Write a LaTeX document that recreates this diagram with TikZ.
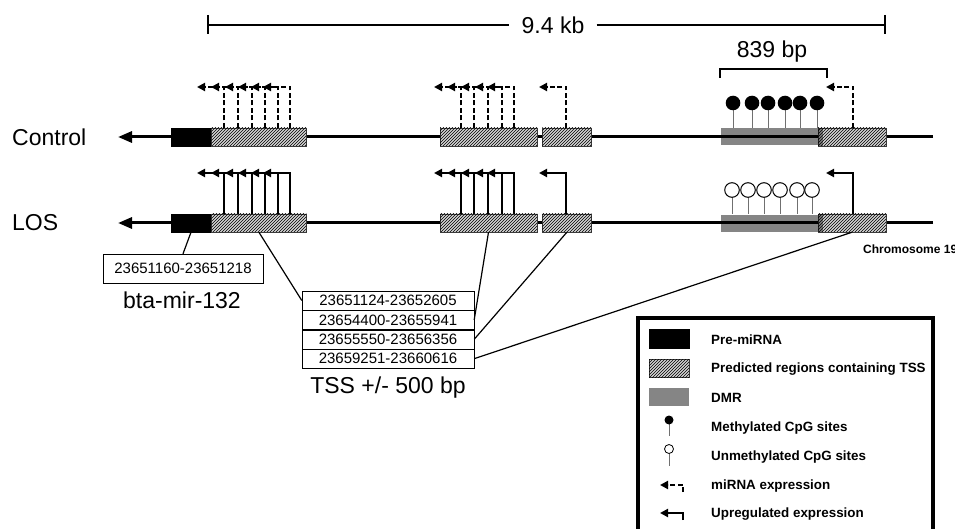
\documentclass[tikz,border=0pt]{standalone}
\usepackage{fontspec}
\setmainfont{Liberation Sans}
\usepackage{tikz}
\usetikzlibrary{positioning, arrows.meta, patterns}
\definecolor{hatchBg}{HTML}{d4d4d4}
\definecolor{hatchEdge}{HTML}{3c3c3c}
\definecolor{dmrGray}{HTML}{858585}
\definecolor{stemGray}{HTML}{707070}

\begin{document}
\begin{tikzpicture}[x=1pt, y=-1pt,
  chrom/.style={line width=3pt},
  tss/.style={draw=hatchEdge, fill=hatchBg, postaction={pattern=north east lines}, minimum height=18pt, inner sep=0pt},
  premir/.style={draw=black, fill=black, minimum height=18pt, inner sep=0pt},
  dmr/.style={fill=dmrGray, minimum height=17pt, inner sep=0pt},
  mirna/.style={line width=2pt, dash pattern=on 5pt off 2.5pt, -{Triangle[length=8pt, width=8pt]}},
  upreg/.style={line width=2pt, -{Triangle[length=8pt, width=8pt]}},
  big/.style={font=\fontsize{23}{26}\selectfont},
  coordbox/.style={draw, font=\fontsize{15}{17}\selectfont, inner sep=0pt},
  leg/.style={anchor=west, inner xsep=0pt, font=\fontsize{13.4}{15}\selectfont\bfseries}]
\useasboundingbox (0,0) rectangle (955,529);

% scale bar
\node[big, inner xsep=12pt] (kb) at (553,25) {9.4 kb};
\draw[line width=1.5pt] (208,15) -- (208,34);
\draw[line width=1.5pt] (885,15) -- (885,34);
\draw[line width=1.5pt] (208,25) -- (kb.west);
\draw[line width=1.5pt] (kb.east) -- (885,25);

% Control
\node[big, anchor=west, inner xsep=0pt] (ctrl) at (12,137) {Control};
\node[dmr, minimum width=97pt] (cDMR) at (769.5,136.5) {};
\draw[chrom, -{Triangle[length=14pt, width=11pt]}] (933,137) -- (118,137);
\node[premir, minimum width=40pt] (cPre) at (191,137) {};
\node[tss, minimum width=95pt, right=0pt of cPre] (cT1) {};
\node[tss, minimum width=97pt] (cT2) at (488.5,137) {};
\node[tss, minimum width=49pt, right=5pt of cT2] (cT3) {};
\node[tss, minimum width=68pt] (cT4) at (852,137) {};
\fill[black, opacity=0.4] (cT4.north west) rectangle ++(5,18);
\foreach \x in {224,238,252,265,278,290,461,474,488,502,514,566,853}
  \draw[mirna] (\x,128) -- (\x,87) -- (\x-27,87);
\foreach \x in {733,752,768,785,800,817} {
  \draw[stemGray, line width=1pt] (\x,128) -- (\x,103);
  \fill (\x,103) circle (7.3pt);
}
\draw[line width=2pt] (720,78) -- (720,69) -- (827,69) -- (827,78);
\node[big] (bp) at (772,52) {839 bp};

% LOS
\node[big, anchor=west, inner xsep=0pt] (los) at (12,223) {LOS};
\node[dmr, minimum width=97pt] (lDMR) at (769.5,223.5) {};
\draw[chrom, -{Triangle[length=14pt, width=11pt]}] (933,223) -- (118,223);
\node[premir, minimum width=40pt] (lPre) at (191,223) {};
\node[tss, minimum width=95pt, right=0pt of lPre] (lT1) {};
\node[tss, minimum width=97pt] (lT2) at (488.5,223) {};
\node[tss, minimum width=49pt, right=5pt of lT2] (lT3) {};
\node[tss, minimum width=68pt] (lT4) at (852,223) {};
\fill[black, opacity=0.4] (lT4.north west) rectangle ++(5,18);
\foreach \x in {224,238,252,265,278,290,461,474,488,502,514,566,853}
  \draw[upreg] (\x,214) -- (\x,173) -- (\x-27,173);
\foreach \x in {732,748,764,780,797,812} {
  \draw[stemGray, line width=1pt] (\x,214) -- (\x,190);
  \draw[fill=white, line width=1pt] (\x,190) circle (7.3pt);
}
\node[anchor=west, inner xsep=0pt, font=\fontsize{12}{14}\selectfont\bfseries] (chr) at (863,249) {Chromosome 19};

% coordinates
\node[coordbox, minimum width=160pt, minimum height=29pt] (mirA) at (183,268.5) {23651160-23651218};
\node[big] (mirName) at (182,300) {bta-mir-132};
\node[coordbox, minimum width=172pt, minimum height=19pt] (rA) at (388,300.5) {23651124-23652605};
\node[coordbox, minimum width=172pt, minimum height=19pt, below=0pt of rA] (rB) {23654400-23655941};
\node[coordbox, minimum width=172pt, minimum height=19pt, below=0pt of rB] (rC) {23655550-23656356};
\node[coordbox, minimum width=172pt, minimum height=19pt, below=0pt of rC] (rD) {23659251-23660616};
\node[big] (tssName) at (388,388) {TSS +/- 500 bp};
\draw[line width=1.2pt] (lPre.south) -- (mirA.north);
\draw[line width=1.2pt] (lT1.south) -- (rA.west);
\draw[line width=1.2pt] (lT2.south) -- (rB.east);
\draw[line width=1.2pt] (lT3.south) -- (rC.east);
\draw[line width=1.2pt] (lT4.south) -- (rD.east);

% legend
\draw[line width=3.5pt] (638,318) rectangle (933,545);
\node[premir, minimum width=40pt, minimum height=19pt] (kPre) at (669,338.5) {};
\node[tss, minimum width=40pt, minimum height=18pt] (kTss) at (669,368) {};
\node[dmr, minimum width=40pt, minimum height=18pt] (kDmr) at (669,397) {};
\node[leg] (tPre) at (711,340) {Pre-miRNA};
\node[leg] (tTss) at (711,369) {Predicted regions containing TSS};
\node[leg] (tDmr) at (711,398) {DMR};
\draw[stemGray, line width=1pt] (669,420) -- (669,436);
\fill (669,420) circle (4.5pt);
\node[leg] (tMeth) at (711,428) {Methylated CpG sites};
\draw[stemGray, line width=1pt] (669,449) -- (669,466);
\draw[fill=white, line width=0.8pt] (669,449) circle (4.5pt);
\node[leg] (tUnm) at (711,457) {Unmethylated CpG sites};
\draw[mirna] (683,492) -- (683,485) -- (660,485);
\node[leg] (tMir) at (711,486) {miRNA expression};
\draw[upreg] (683,520) -- (683,513) -- (660,513);
\node[leg] (tUp) at (711,514) {Upregulated expression};
\end{tikzpicture}
\end{document}
